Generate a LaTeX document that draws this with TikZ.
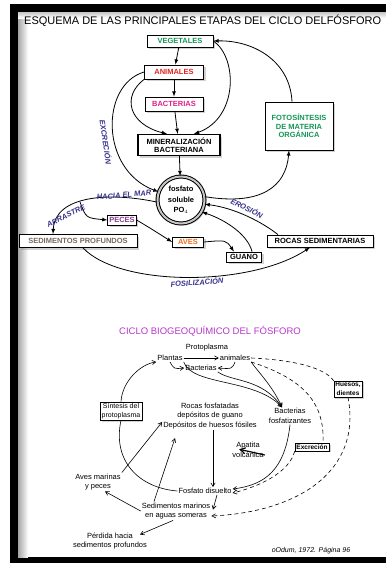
\documentclass[tikz,border=0pt]{standalone}
\usepackage{fontspec}
\setmainfont{Liberation Sans}
\usetikzlibrary{arrows,%
                shadows}
\definecolor{verdeveg}{RGB}{20,150,85}
\definecolor{rojoani}{RGB}{225,35,35}
\definecolor{rosabac}{RGB}{225,30,140}
\definecolor{moradopec}{RGB}{140,60,150}
\definecolor{naranjaave}{RGB}{240,110,30}
\definecolor{grissed}{RGB}{120,105,95}
\definecolor{azulrot}{RGB}{55,50,140}
\definecolor{lilatit}{RGB}{185,55,205}

\begin{document}
\begin{tikzpicture}[x=1pt,y=-1pt]
  \useasboundingbox (0,0) rectangle (386,563);
  \clip (0,0) rectangle (386,563);
  % marco
  \fill[black] (10,4) rectangle (392,563);
  \fill[white] (18,12) rectangle (392,557);
  \shade[left color=gray!70,right color=white] (18,12) rectangle (28,557);
  \shade[top color=gray!45,bottom color=white] (18,12) rectangle (392,18);

  \tikzstyle{caja}=[draw,line width=0.8pt,fill=white,align=center,inner sep=1.5pt,
                    drop shadow={shadow xshift=2pt,shadow yshift=-2pt,opacity=0.35},
                    font=\fontsize{7.5}{8.5}\selectfont\bfseries]
  \tikzstyle{rotulo}=[text=azulrot,font=\fontsize{7.5}{8}\selectfont\bfseries\itshape,inner sep=0pt]
  \tikzstyle{flecha}=[-latex,line width=0.8pt]
  \tikzstyle{txt}=[align=center,inner sep=1pt,font=\fontsize{7.5}{9.5}\selectfont]
  \tikzstyle{cajita}=[draw,line width=0.5pt,fill=white,align=center,inner sep=1.5pt,
                      drop shadow={shadow xshift=1.5pt,shadow yshift=-1.5pt,opacity=0.35},
                      font=\fontsize{6.5}{8.5}\selectfont\bfseries]
  \tikzstyle{flechita}=[-angle 60,line width=0.6pt]
  \tikzstyle{rayas}=[dash pattern=on 4pt off 3pt,line width=0.6pt]
  %\tikzstyle{flechita}=[->,line width=0.6pt]

  \node[anchor=west,inner sep=0pt,font=\fontsize{11}{13}\selectfont] (titulo) at (24,21)
       {ESQUEMA DE LAS PRINCIPALES ETAPAS DEL CICLO DELFÓSFORO};

  % esquema de arriba
  \node[caja,text=verdeveg,minimum width=66,minimum height=12] (veg) at (180,41) {VEGETALES};
  \node[caja,text=rojoani,minimum width=59,minimum height=14] (ani) at (174,72) {ANIMALES};
  \node[caja,text=rosabac,minimum width=58,minimum height=14] (bac) at (174,104) {BACTERIAS};
  \node[caja,line width=1.2pt,minimum width=82,minimum height=21] (min) at (179,145)
       {MINERALIZACIÓN\\BACTERIANA};
  \node[caja,text=verdeveg,minimum width=68,minimum height=48] (foto) at (299,126)
       {FOTOSÍNTESIS\\DE MATERIA\\ORGÁNICA};
  \node[circle,draw,line width=1pt,double=gray!45,double distance=2pt,fill=white,
        minimum size=47,inner sep=0pt,align=center,
        drop shadow={shadow xshift=2pt,shadow yshift=-2pt,opacity=0.35},
        font=\fontsize{7.5}{10.5}\selectfont\bfseries] (fos) at (181,200)
       {fosfato\\soluble\\PO$_4$};
  \node[caja,text=moradopec,minimum width=25,minimum height=10] (pec) at (122,220) {PECES};
  \node[caja,text=grissed,minimum width=118,minimum height=13] (sed) at (78,241) {SEDIMENTOS PROFUNDOS};
  \node[caja,text=naranjaave,minimum width=31,minimum height=10] (ave) at (188,242) {AVES};
  \node[caja,minimum width=35,minimum height=10] (gua) at (244,257) {GUANO};
  \node[caja,minimum width=106,minimum height=12] (roc) at (320,241) {ROCAS SEDIMENTARIAS};
  \coordinate (rama) at (80,202);

  \draw[flecha] (veg) -- (ani);
  \draw[flecha] (ani) -- (bac);
  \draw[flecha] (bac) -- (min);
  \draw[flecha] (min) -- (fos);
  \draw[flecha] (veg.east) .. controls (238,58) and (238,118) .. ([xshift=15]min.north);
  \draw[flecha] (ani.south west) .. controls (122,96) and (128,124) .. ([xshift=-12]min.north);
  \draw[flecha] (ani.west) .. controls (100,85) and (100,170) .. (fos.160);
  \draw[flecha] (fos.185) .. controls (110,192) and (55,195) .. ([xshift=-25]sed.north);
  \draw[flecha] (rama) .. controls (86,218) .. (pec.west);
  \draw[flecha] (fos.8) .. controls (262,206) and (286,186) .. ([xshift=-10]foto.south);
  \draw[flecha] ([xshift=-7]foto.north) .. controls (290,60) and (252,40) .. (veg.east);
  \draw[flecha] ([xshift=-42]roc.north) .. controls (262,222) and (235,208) .. (fos.-10);
  \draw[flecha] (pec.east) .. controls (150,228) .. (ave.west);
  \draw[flecha] (ave.east) .. controls (226,240) .. ([xshift=-10]gua.north);
  \draw[flecha] ([xshift=8]gua.north) .. controls (248,235) and (226,220) .. (fos.-30);
  \draw[flecha] ([xshift=5]sed.south) .. controls (120,287) and (250,287) .. ([xshift=-10]roc.south);

  \node[rotulo,rotate=-82] (excr) at (106,142) {EXCRECIÓN};
  \node[rotulo,rotate=-26] (eros) at (247,208) {EROSIÓN};
  \node[rotulo,rotate=4] (fosil) at (197,282) {FOSILIZACIÓN};
  \node[rotulo,rotate=26] (arr1) at (66,216) {ARRASTRE};
  \node[rotulo,rotate=5] (arr2) at (124,195) {HACIA EL MAR};

  % esquema de abajo
  \node[text=lilatit,font=\fontsize{9.5}{11}\selectfont] (titulo2) at (210,331)
       {CICLO BIOGEOQUÍMICO DEL FÓSFORO};
  \node[txt] (prot) at (207,348) {Protoplasma};
  \node[txt] (pla) at (170,358) {Plantas};
  \node[txt] (ani2) at (235,358) {animales};
  \node[txt] (bac2) at (201,368) {Bacterias};
  \node[cajita] (hue) at (348,389) {Huesos,\\dientes};
  \node[cajita,font=\fontsize{7}{8.5}\selectfont] (sin) at (121,411) {Síntesis del\\protoplasma};
  \node[txt] (roc2) at (210,416) {Rocas fosfatadas\\depósitos de guano\\Depósitos de huesos fósiles};
  \node[txt] (bfo) at (290,416) {Bacterias\\fosfatizantes};
  \node[txt] (apa) at (248,450) {Apatita\\volcánica};
  \node[cajita] (exc) at (312,447) {Excreción};
  \node[txt] (ave2) at (98,482) {Aves marinas\\y peces};
  \node[txt] (fdi) at (205,491) {Fosfato disuelto};
  \node[txt] (sma) at (176,511) {Sedimentos marinos\\en aguas someras};
  \node[txt] (per) at (110,541) {Pérdida hacia\\sedimentos profundos};
  \node[txt,font=\fontsize{7}{8}\selectfont\itshape] (cita) at (311,551) {oOdum, 1972. Página 96};

  \draw[flechita] (pla) -- (ani2);
  \draw[flechita] (pla.south) .. controls (174,369) .. (bac2.west);
  \draw[flechita] (ani2.south) .. controls (232,369) .. (bac2.east);
  \draw[flechita] (pla.south east) .. controls (192,386) and (255,378) .. ([xshift=-8]bfo.north);
  \draw[flechita] (bac2.south east) .. controls (232,382) and (262,378) .. ([xshift=-8]bfo.north);
  \draw[flechita] (ani2.south east) .. controls (258,372) and (272,385) .. ([xshift=-8]bfo.north);
  \draw[rayas] (ani2.east) .. controls (295,360) and (325,368) .. (hue.north west);
  \draw[rayas] (ani2.south east) .. controls (300,378) and (325,400) .. ([xshift=11]exc.north);
  \draw[flechita,rayas] (exc.south west) .. controls (290,470) and (265,485) .. ([yshift=-2]fdi.east);
  \draw[flechita,rayas] (hue.south) .. controls (362,470) and (300,512) .. ([yshift=-5]sma.east);
  \draw[flechita] (bfo.south) .. controls (285,470) and (265,485) .. ([yshift=2]fdi.east);
  \draw[flechita] ([xshift=3]roc2.south) -- ([xshift=8]fdi.north);
  \draw[flechita,line width=1.2pt] ([yshift=-5]apa.east) -- ([shift={(8,8)}]apa.north west);
  \draw[line width=0.6pt] (fdi.west) .. controls (140,488) and (112,462) .. (sin.south);
  \draw[flechita] (sin.north) .. controls (122,382) and (140,364) .. (pla.south west);
  \draw[flechita] (ave2.north east) -- ([yshift=-6]roc2.west);
  \draw[flechita] ([xshift=-22]sma.north) -- ([xshift=-35,yshift=-8]roc2.south);
  \draw[flechita] (sma.west) -- ([xshift=7]ave2.south);
  \draw[flechita] ([xshift=12]fdi.south) -- ([xshift=37,yshift=-8]sma.north);
  \draw[flechita] ([xshift=-3]sma.south) -- ([xshift=30,yshift=-3]per.north);
\end{tikzpicture}
\end{document}
